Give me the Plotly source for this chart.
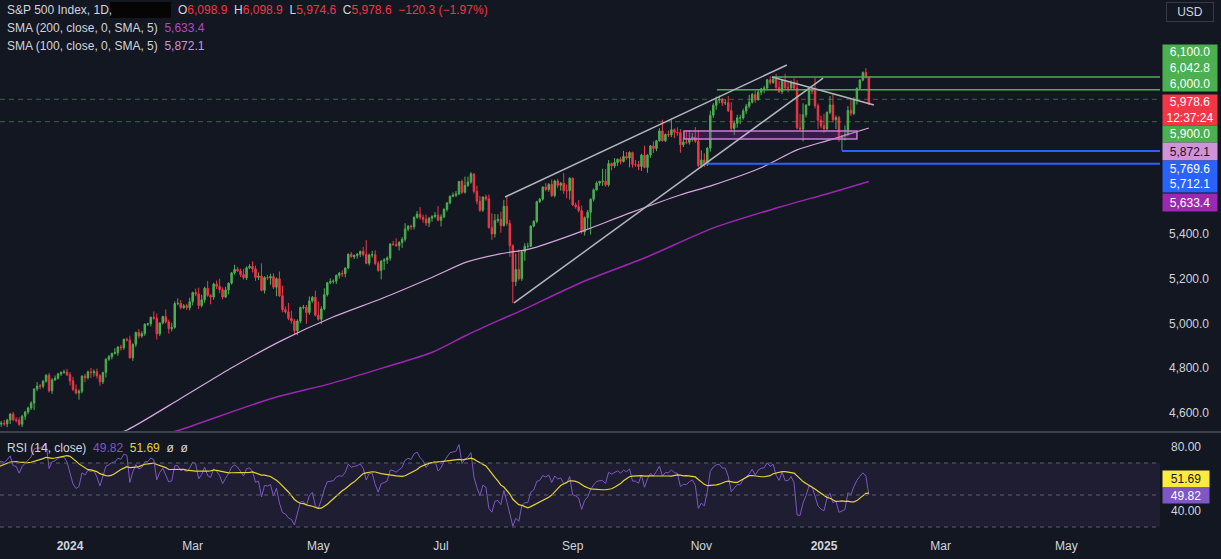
import numpy as np
import pandas as pd
import plotly.graph_objects as go

# ---------------- DATA ----------------
# Daily closes, 2 Oct 2023 .. 27 Jan 2025 (bar index of 2 Jan 2024 = 0)
closes = [
    # Oct 2023
    4288, 4229, 4263, 4258, 4308, 4336, 4358, 4376, 4349, 4327, 4373, 4373, 4314, 4278, 4224, 4217, 4247, 4186, 4137, 4117, 4167, 4194,
    # Nov 2023
    4237, 4317, 4358, 4365, 4378, 4383, 4347, 4415, 4411, 4496, 4503, 4508, 4514, 4547, 4538, 4556, 4559, 4550, 4554, 4551, 4568,
    # Dec 2023
    4595, 4569, 4567, 4549, 4585, 4604, 4622, 4644, 4707, 4720, 4719, 4741, 4768, 4699, 4747, 4755, 4774, 4781, 4783, 4770,
    # Jan 2024
    4743, 4705, 4689, 4697, 4764, 4757, 4783, 4780, 4784, 4766, 4739, 4780, 4840, 4851, 4865, 4869, 4894, 4891, 4928, 4925, 4846,
    # Feb 2024
    4906, 4959, 4943, 4954, 4996, 4998, 5027, 5022, 4953, 5001, 5030, 5006, 4976, 4982, 5088, 5089, 5070, 5078, 5070, 5096,
    # Mar 2024
    5137, 5131, 5079, 5105, 5157, 5124, 5117, 5175, 5165, 5150, 5117, 5149, 5179, 5225, 5241, 5234, 5218, 5203, 5248, 5254,
    # Apr 2024
    5243, 5205, 5211, 5147, 5204, 5202, 5209, 5161, 5199, 5123, 5061, 5051, 5022, 5011, 4967, 5010, 5070, 5072, 5048, 5100, 5116, 5036,
    # May 2024
    5018, 5064, 5128, 5181, 5187, 5188, 5214, 5223, 5221, 5247, 5308, 5297, 5303, 5308, 5321, 5307, 5268, 5305, 5306, 5267, 5236, 5278,
    # Jun 2024
    5283, 5291, 5354, 5352, 5347, 5361, 5375, 5421, 5434, 5431, 5473, 5487, 5473, 5465, 5448, 5469, 5477, 5483, 5460,
    # Jul 2024
    5475, 5509, 5537, 5567, 5572, 5577, 5633, 5585, 5615, 5631, 5667, 5589, 5545, 5505, 5564, 5555, 5427, 5399, 5459, 5464, 5436, 5522,
    # Aug 2024
    5446, 5347, 5186, 5240, 5199, 5319, 5344, 5344, 5434, 5455, 5543, 5554, 5608, 5597, 5620, 5570, 5635, 5616, 5625, 5592, 5592, 5648,
    # Sep 2024
    5528, 5520, 5503, 5408, 5471, 5496, 5554, 5596, 5626, 5633, 5634, 5618, 5713, 5703, 5718, 5732, 5722, 5745, 5738, 5762,
    # Oct 2024
    5709, 5709, 5700, 5751, 5696, 5751, 5792, 5780, 5815, 5859, 5815, 5843, 5841, 5864, 5853, 5851, 5797, 5809, 5808, 5823, 5832, 5813, 5705,
    # Nov 2024
    5729, 5712, 5782, 5929, 5973, 5996, 6001, 5984, 5985, 5949, 5870, 5893, 5917, 5917, 5948, 5969, 5987, 6021, 5998, 6032,
    # Dec 2024
    6047, 6050, 6087, 6075, 6090, 6053, 6034, 6084, 6051, 6051, 6074, 6050, 5872, 5867, 5931, 5974, 6040, 6037, 5971, 5907, 5882,
    # Jan 2025
    5869, 5942, 5975, 5909, 5918, 5827, 5836, 5843, 5950, 5937, 5997, 6049, 6086, 6119, 6101, 5978.6,
]
FIRST_BAR = -63          # bar index of closes[0]
SHOW_FROM = 39           # first drawn candle (27 Nov 2023)
LAST_OPEN = 6098.9

# wick sizes (points) for drawn candles, 27 Nov 2023 .. 27 Jan 2025
upper_wick = (
    [8, 10, 14, 6] +
    [4, 10, 12, 14, 6, 5, 6, 8, 2, 18, 9, 6, 5, 10, 8, 12, 5, 4, 10, 14] +
    [12, 18, 22, 8, 4, 10, 6, 18, 10, 14, 6, 4, 3, 8, 4, 20, 4, 10, 4, 8, 20] +
    [5, 4, 16, 10, 4, 4, 3, 26, 22, 4, 4, 32, 10, 20, 10, 22, 15, 8, 8, 18] +
    [4, 18, 28, 22, 6, 32, 6, 6, 16, 34, 10, 14, 4, 4, 20, 10, 10, 25, 6, 10] +
    [22, 14, 16, 56, 6, 12, 12, 14, 6, 32, 45, 14, 40, 34, 8, 8, 4, 10, 10, 20, 6, 30] +
    [60, 12, 28, 4, 14, 8, 4, 6, 14, 2, 4, 10, 4, 6, 4, 20, 64, 6, 18, 20, 10, 4] +
    [8, 8, 4, 14, 28, 6, 10, 26, 4, 6, 4, 14, 32, 12, 20, 6, 6, 14, 40] +
    [12, 4, 4, 4, 12, 14, 2, 9, 40, 24, 8, 2, 25, 24, 2, 10, 20, 64, 29, 23, 34, 29] +
    [44, 16, 5, 72, 90, 2, 14, 16, 4, 6, 4, 6, 4, 18, 6, 22, 6, 10, 6, 46, 28, 4] +
    [2, 10, 31, 22, 6, 10, 4, 6, 8, 4, 56, 55, 16, 4, 20, 4, 10, 25, 20, 6] +
    [4, 20, 16, 6, 42, 4, 4, 20, 4, 12, 50, 4, 18, 50, 6, 22, 16, 20, 54, 40, 18, 44, 50] +
    [43, 30, 4, 20, 10, 16, 16, 4, 16, 30, 38, 12, 14, 14, 10, 10, 33, 8, 18, 12] +
    [4, 10, 4, 16, 6, 24, 30, 4, 30, 30, 10, 20, 35, 63, 51, 4, 4, 10, 60, 10, 20] +
    [53, 4, 40, 47, 10, 8, 6, 40, 20, 50, 12, 4, 4, 6, 20, 0]
)
lower_wick = (
    [6, 12, 9, 15] +
    [18, 6, 10, 8, 12, 16, 10, 9, 32, 10, 14, 9, 6, 8, 14, 4, 6, 9, 7, 5] +
    [20, 8, 6, 30, 10, 20, 8, 24, 18, 12, 18, 10, 22, 8, 12, 4, 14, 12, 10, 6, 4] +
    [14, 12, 10, 8, 10, 8, 12, 6, 26, 10, 6, 6, 22, 12, 6, 8, 8, 6, 10, 12] +
    [16, 10, 16, 8, 14, 6, 32, 12, 12, 16, 10, 4, 20, 6, 8, 4, 12, 8, 10, 5] +
    [16, 16, 12, 4, 14, 8, 30, 8, 40, 6, 12, 8, 8, 12, 16, 20, 10, 8, 50, 10, 8, 6] +
    [6, 22, 6, 8, 6, 10, 12, 14, 14, 16, 6, 4, 10, 14, 12, 8, 4, 10, 12, 8, 6, 40] +
    [40, 18, 12, 6, 6, 22, 24, 10, 10, 14, 12, 6, 10, 16, 14, 18, 16, 8, 4] +
    [28, 6, 10, 6, 4, 8, 4, 8, 6, 6, 8, 10, 14, 8, 8, 8, 4, 26, 16, 10, 32, 4] +
    [10, 50, 96, 20, 8, 10, 40, 10, 4, 6, 8, 6, 6, 8, 10, 6, 8, 12, 24, 14, 34, 40] +
    [4, 8, 8, 8, 16, 50, 100, 10, 4, 12, 20, 8, 8, 20, 10, 16, 12, 4, 8, 42] +
    [14, 10, 16, 20, 4, 24, 12, 20, 12, 4, 4, 6, 10, 10, 26, 14, 36, 10, 8, 10, 12, 8, 8] +
    [10, 14, 10, 16, 12, 20, 14, 14, 10, 6, 16, 30, 20, 28, 8, 14, 10, 6, 14, 4] +
    [14, 20, 10, 10, 6, 16, 6, 10, 6, 20, 6, 8, 6, 2, 55, 12, 4, 14, 12, 40, 12] +
    [20, 10, 8, 12, 42, 16, 56, 20, 8, 12, 8, 20, 6, 6, 8, 4]
)

# moving averages (bar index, value)
sma100_idx = [14, 19.1, 37.8, 54.5, 71.2, 87.9, 104.6, 121.3, 132.7, 143.7, 153.7, 170.5, 187.2, 203.9, 214.9, 231.6, 243, 254, 267]
sma100_val = [4500, 4524, 4671, 4805, 4926, 5028, 5113, 5207, 5274, 5310, 5332, 5408, 5493, 5573, 5617, 5698, 5774, 5819, 5872.1]
sma200_idx = [30, 36.8, 65.8, 87.9, 104.6, 121.3, 132.7, 143.7, 151.4, 170.5, 192.8, 214.9, 237.3, 254, 267]
sma200_val = [4500, 4524, 4658, 4734, 4801, 4872, 4948, 5015, 5060, 5180, 5296, 5425, 5519, 5582, 5633.4]

# drawings
trend_lines = [((145.4, 5564), (239.6, 6153)), ((148.4, 5091), (251.7, 6095)), ((234.6, 6099.5), (268.7, 5974.6))]
green_levels = [(6100.0, 234.6), (6042.8, 216.2)]
dashed_levels = [6000.0, 5900.0]
blue_levels = [(5769.6, 258.0), (5712.1, 211.6)]
zone = (205.2, 263.0, 5823, 5858)

# axes
x_ticks = [0, 41, 83, 124, 168, 211, 252, 291, 333]
x_labels = ["<b>2024</b>", "Mar", "May", "Jul", "Sep", "Nov", "<b>2025</b>", "Mar", "May"]
price_ticks = [4600, 4800, 5000, 5200, 5400]
rsi_ticks = [40, 80]

last_ohlc = (6098.9, 6098.9, 5974.6, 5978.6)
last_change, last_pct = -120.3, -1.97
sma200_last, sma100_last = 5633.4, 5872.1
rsi_last, rsi_ma_last = 49.82, 51.69

# ---------------- DERIVED ----------------
assert len(upper_wick) == len(closes) - SHOW_FROM, len(upper_wick)
assert len(lower_wick) == len(closes) - SHOW_FROM, len(lower_wick)

bar_x = [FIRST_BAR + i for i in range(len(closes))]
xs, o_, h_, l_, c_ = [], [], [], [], []
for k, i in enumerate(range(SHOW_FROM, len(closes))):
    o = closes[i - 1] if i < len(closes) - 1 else LAST_OPEN
    c = closes[i]
    xs.append(bar_x[i]); o_.append(o); c_.append(c)
    h_.append(max(o, c) + upper_wick[k]); l_.append(min(o, c) - lower_wick[k])

arr = np.array(closes, dtype=float)
d = np.diff(arr)
g = np.where(d > 0, d, 0.0); lo = np.where(d < 0, -d, 0.0)
n = 14
rsi = np.full(len(arr), np.nan)
ag, al = g[:n].mean(), lo[:n].mean()
rsi[n] = 100 - 100 / (1 + ag / al)
for i in range(n + 1, len(arr)):
    ag = (ag * (n - 1) + g[i - 1]) / n
    al = (al * (n - 1) + lo[i - 1]) / n
    rsi[i] = 100 - 100 / (1 + ag / al) if al > 0 else 100
rsi_ma = pd.Series(rsi).rolling(14).mean().to_numpy()

# ---------------- FIGURE ----------------
BG = "#131722"; TXT = "#d1d4dc"; UP = "#4caf50"; DN = "#f23645"
FONT = "Liberation Sans"
W, H = 1221, 559
PW, PH = 1160, 537           # plot area in px
X_LO = -23.4; X_HI = X_LO + PW / 2.992
Y_TOP, Y_BOT = 6443.3, 4519.2
MAIN_DOM = [(PH - 431) / PH, 1]
RSI_DOM = [0, (PH - 433) / PH]

def py(px):
    return (PH - px) / PH

def pxx(px):
    return px / PW

fig = go.Figure()
fig.add_trace(go.Candlestick(
    x=xs, open=o_, high=h_, low=l_, close=c_,
    increasing=dict(line=dict(color=UP, width=1), fillcolor=UP),
    decreasing=dict(line=dict(color=DN, width=1), fillcolor=DN),
    whiskerwidth=0, hoverinfo="skip", showlegend=False, xaxis="x", yaxis="y"))
fig.add_trace(go.Scatter(x=sma100_idx, y=sma100_val, mode="lines",
                         line=dict(color="#d6a6df", width=1.2, shape="spline", smoothing=0.8),
                         hoverinfo="skip", showlegend=False, xaxis="x", yaxis="y"))
fig.add_trace(go.Scatter(x=sma200_idx, y=sma200_val, mode="lines",
                         line=dict(color="#9c27b0", width=1.5, shape="spline", smoothing=0.8),
                         hoverinfo="skip", showlegend=False, xaxis="x", yaxis="y"))
fig.add_trace(go.Scatter(x=bar_x, y=rsi, mode="lines", line=dict(color="#7e57c2", width=1),
                         hoverinfo="skip", showlegend=False, xaxis="x", yaxis="y2"))
fig.add_trace(go.Scatter(x=bar_x, y=rsi_ma, mode="lines", line=dict(color="#e6d433", width=1.2),
                         hoverinfo="skip", showlegend=False, xaxis="x", yaxis="y2"))

shapes = []
# RSI band and levels
shapes.append(dict(type="rect", xref="paper", yref="y2", x0=0, x1=1, y0=30, y1=70,
                   fillcolor="rgba(126,87,194,0.10)", line=dict(width=0), layer="below"))
for lv in (70, 50, 30):
    shapes.append(dict(type="line", xref="paper", yref="y2", x0=0, x1=1, y0=lv, y1=lv,
                       line=dict(color="#5d606b", width=1, dash="4px,4px")))
# dashed green levels
for lv in dashed_levels:
    shapes.append(dict(type="line", xref="paper", yref="y", x0=0, x1=1, y0=lv, y1=lv,
                       line=dict(color="rgba(76,175,80,0.55)", width=1, dash="5px,4px")))
# solid green levels
for lv, x0 in green_levels:
    shapes.append(dict(type="line", xref="x", yref="y", x0=x0, x1=X_HI, y0=lv, y1=lv,
                       line=dict(color=UP, width=1.5)))
# blue levels
for lv, x0 in blue_levels:
    shapes.append(dict(type="line", xref="x", yref="y", x0=x0, x1=X_HI, y0=lv, y1=lv,
                       line=dict(color="#2962ff", width=2)))
# zone
shapes.append(dict(type="rect", xref="x", yref="y", x0=zone[0], x1=zone[1], y0=zone[2], y1=zone[3],
                   fillcolor="rgba(156,39,176,0.25)", line=dict(color="#c77fd6", width=1.5)))
# trend lines
for (xa, ya), (xb, yb) in trend_lines:
    shapes.append(dict(type="line", xref="x", yref="y", x0=xa, y0=ya, x1=xb, y1=yb,
                       line=dict(color="#b2b5be", width=1.5)))
# pane separator
shapes.append(dict(type="line", xref="paper", yref="paper", x0=0, x1=W / PW, y0=py(432), y1=py(432),
                   line=dict(color="#6a6d78", width=1)))
# redacted box in the title
shapes.append(dict(type="rect", xref="paper", yref="paper", x0=pxx(110), x1=pxx(171), y0=py(18), y1=py(2),
                   fillcolor="#050505", line=dict(width=0)))

ann = []
def txt(x, y, s, size=12, color=TXT):
    ann.append(dict(xref="paper", yref="paper", x=pxx(x), y=py(y), xanchor="left", yanchor="middle",
                    text=s, showarrow=False, font=dict(family=FONT, size=size, color=color)))

def fmt(v):
    return f"{v:,.1f}"

R = DN
o, h, l, c = last_ohlc
txt(5, 10, "S&amp;P 500 Index, 1D,")
txt(176, 10, f"O<span style='color:{R}'>{fmt(o)}</span>  H<span style='color:{R}'>{fmt(h)}</span>  "
             f"L<span style='color:{R}'>{fmt(l)}</span>  C<span style='color:{R}'>{fmt(c)}</span>  "
             f"<span style='color:{R}'>−{abs(last_change):.1f} (−{abs(last_pct):.2f}%)</span>")
txt(5, 28, f"SMA (200, close, 0, SMA, 5)  <span style='color:#b04ac4'>{fmt(sma200_last)}</span>")
txt(5, 46, f"SMA (100, close, 0, SMA, 5)  <span style='color:#ce93d8'>{fmt(sma100_last)}</span>")
txt(5, 448, f"RSI (14, close)  <span style='color:#7e57c2'>{rsi_last:.2f}</span>  "
            f"<span style='color:#e6d433'>{rsi_ma_last:.2f}</span>  ø  ø")

def label(y_c, text, bg, fg="#ffffff", h=16, w=54):
    ann.append(dict(xref="paper", yref="paper", x=pxx(1162), y=py(y_c), xanchor="left", yanchor="middle",
                    text=text, showarrow=False, bgcolor=bg, width=w, height=h, align="center",
                    borderpad=0, font=dict(family=FONT, size=12, color=fg)))

label(67.8, "6,100.0<br>6,042.8<br>6,000.0", UP, h=46)
label(110.5, f"{fmt(c)}<br>12:37:24", R, h=30)
label(133.5, "5,900.0", UP, h=16)
label(151.3, fmt(sma100_last), "#ce93d8", fg="#131722", h=17)
label(176.8, f"{fmt(blue_levels[0][0])}<br>{fmt(blue_levels[1][0])}", "#2962ff", h=31)
label(202.5, fmt(sma200_last), "#9c27b0", h=17)
label(478.6, f"{rsi_ma_last:.2f}", "#ffeb3b", fg="#131722", h=16, w=46)
label(495.2, f"{rsi_last:.2f}", "#7e57c2", h=15, w=46)

ann.append(dict(xref="paper", yref="paper", x=pxx(1190), y=py(12), xanchor="center", yanchor="middle",
                text="USD", showarrow=False, width=46, height=18, bordercolor="#363a45", borderwidth=1,
                borderpad=0, font=dict(family=FONT, size=12, color=TXT)))

fig.update_layout(
    width=W, height=H, margin=dict(l=0, r=W - PW, t=0, b=H - PH),
    paper_bgcolor=BG, plot_bgcolor=BG, showlegend=False,
    font=dict(family=FONT, size=12, color=TXT),
    xaxis=dict(domain=[0, 1], range=[X_LO, X_HI], anchor="y2", tickvals=x_ticks, ticktext=x_labels,
               showgrid=False, zeroline=False, showline=False, ticks="", rangeslider=dict(visible=False),
               tickfont=dict(family=FONT, size=12, color=TXT), fixedrange=True),
    yaxis=dict(domain=MAIN_DOM, range=[Y_BOT, Y_TOP], side="right", anchor="x",
               tickvals=price_ticks, ticktext=[fmt(v) for v in price_ticks],
               showgrid=False, zeroline=False, showline=False, ticks="", ticklabelstandoff=8,
               tickfont=dict(family=FONT, size=12, color=TXT)),
    yaxis2=dict(domain=RSI_DOM, range=[23.75, 88.75], side="right", anchor="x",
                tickvals=rsi_ticks, ticktext=[f"{v:.2f}" for v in rsi_ticks],
                showgrid=False, zeroline=False, showline=False, ticks="", ticklabelstandoff=10,
                tickfont=dict(family=FONT, size=12, color=TXT)),
    shapes=shapes, annotations=ann,
)

fig.write_html("out.html")
